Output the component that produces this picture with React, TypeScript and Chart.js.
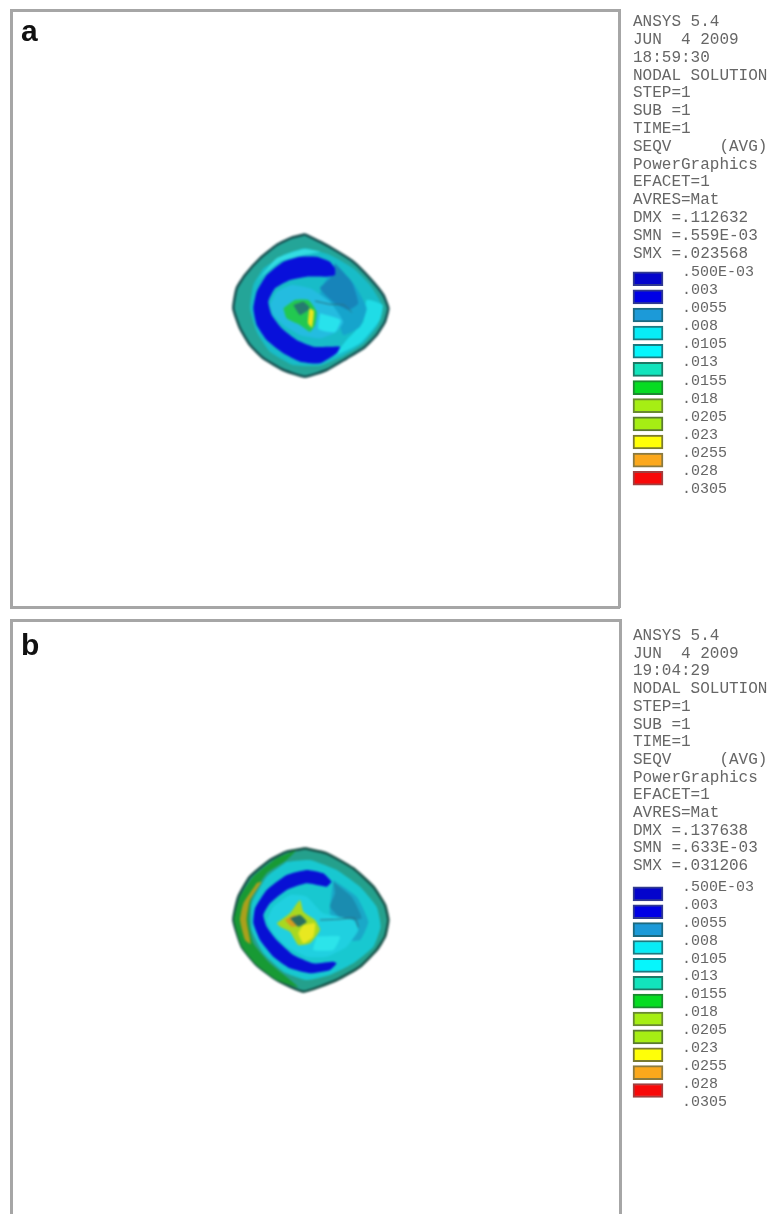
import React, { useEffect, useRef } from "react";
import { Chart, registerables } from "chart.js";

Chart.register(...registerables);

type Pt = [number, number];

/* ---------- legend data ---------- */
const levels = [".500E-03", ".003", ".0055", ".008", ".0105", ".013", ".0155", ".018", ".0205", ".023", ".0255", ".028", ".0305"];
const bandPosition = [0.38, 1.38, 2.38, 3.38, 4.38, 5.38, 6.38, 7.38, 8.38, 9.38, 10.38, 11.38];
const bandColors = ["#0404cc", "#0000e6", "#1c9ad8", "#08ecf6", "#06f6fc", "#12e4bc", "#06dc22", "#a6ee14", "#a6ee14", "#ffff08", "#fba81c", "#f80808"];
const bandEdges = ["#303a90", "#303a90", "#1c6a80", "#1c7a80", "#1c7a80", "#1c7a66", "#1c8a30", "#6a8a30", "#5a7a30", "#7a7a30", "#8a7a40", "#a04040"];

const headerA = ["ANSYS 5.4", "JUN  4 2009", "18:59:30", "NODAL SOLUTION", "STEP=1", "SUB =1", "TIME=1", "SEQV     (AVG)", "PowerGraphics", "EFACET=1", "AVRES=Mat", "DMX =.112632", "SMN =.559E-03", "SMX =.023568"];
const headerB = ["ANSYS 5.4", "JUN  4 2009", "19:04:29", "NODAL SOLUTION", "STEP=1", "SUB =1", "TIME=1", "SEQV     (AVG)", "PowerGraphics", "EFACET=1", "AVRES=Mat", "DMX =.137638", "SMN =.633E-03", "SMX =.031206"];

/* ---------- contour bands, panel a ---------- */
const aOutline: Pt[] = [[255,28],[300,50],[345,75],[400,110],[450,160],[490,210],[505,250],[495,290],[470,330],[430,370],[380,400],[320,435],[255,455],[190,435],[130,400],[90,360],[60,310],[40,250],[50,190],[75,150],[120,100],[170,60],[215,38]];
const aCyanRing: Pt[] = [[130,130],[190,90],[255,70],[330,90],[400,130],[450,180],[486,240],[474,300],[430,355],[370,392],[300,422],[220,420],[150,380],[110,320],[90,250],[100,180]];
const aTopArc: Pt[] = [[110,170],[170,100],[250,72],[300,80],[250,90],[180,110],[130,150]];
const aLowerRight: Pt[] = [[340,395],[420,355],[480,285],[488,240],[440,225],[430,290],[380,345]];
const aMid: Pt[] = [[340,120],[400,175],[440,250],[420,305],[370,330],[350,270],[300,210]];
const aUpperRight: Pt[] = [[345,115],[395,170],[415,235],[385,255],[340,232],[300,190],[330,160]];
const aBlueC: Pt[] = [[345,130],[330,110],[290,95],[240,95],[190,110],[140,150],[110,200],[100,250],[110,300],[140,345],[190,385],[240,410],[300,415],[350,385],[360,365],[330,365],[280,365],[230,345],[185,310],[155,270],[145,230],[165,190],[210,165],[260,155],[320,155],[345,150]];
const aInner: Pt[] = [[150,240],[170,200],[215,180],[270,190],[330,230],[370,290],[350,320],[300,340],[240,330],[190,300],[160,270]];
const aBright: Pt[] = [[300,265],[362,285],[345,322],[295,312]];
const aGreen: Pt[] = [[190,250],[225,225],[265,225],[290,260],[285,300],[270,320],[240,300],[200,280]];
const aCore: Pt[] = [[220,240],[250,230],[270,250],[240,270]];
const aStreak: Pt[] = [[268,250],[282,258],[276,308],[264,295]];
const aMesh: Pt[] = [[285,228],[330,238],[372,240],[395,262]];

/* ---------- contour bands, panel b ---------- */
const bOutline: Pt[] = [[255,25],[320,40],[400,85],[460,140],[495,195],[505,240],[495,290],[470,330],[420,380],[350,420],[250,455],[170,420],[110,375],[65,320],[40,240],[55,170],[90,110],[150,60],[200,35]];
const bGreen: Pt[] = [[230,30],[170,55],[100,110],[60,170],[42,240],[65,320],[110,375],[170,420],[235,442],[150,370],[100,310],[85,240],[95,170],[140,100],[200,60]];
const bOlive: Pt[] = [[110,130],[70,190],[60,240],[75,300],[92,312],[80,240],[90,180],[125,125]];
const bCyanRing: Pt[] = [[200,65],[270,60],[350,90],[420,140],[470,200],[482,260],[460,320],[400,370],[330,405],[260,420],[190,395],[130,340],[95,270],[95,190],[140,110]];
const bMid: Pt[] = [[340,120],[410,170],[445,245],[420,300],[370,300],[330,220]];
const bUpperRight: Pt[] = [[340,125],[395,170],[425,235],[370,240],[330,200],[345,160]];
const bBlueC: Pt[] = [[335,125],[310,100],[260,90],[200,105],[140,150],[105,205],[100,250],[120,300],[160,350],[210,385],[270,400],[330,390],[350,370],[340,365],[280,370],[220,345],[170,300],[140,260],[130,225],[150,190],[200,150],[260,130],[320,140]];
const bInner: Pt[] = [[140,240],[160,200],[210,165],[260,170],[310,220],[400,240],[415,270],[380,320],[320,350],[260,350],[200,320],[160,280]];
const bBright: Pt[] = [[290,290],[360,290],[340,330],[280,330]];
const bYellowGreen: Pt[] = [[170,250],[210,220],[240,180],[250,215],[285,240],[300,270],[270,310],[235,315],[210,275],[180,260]];
const bOrange: Pt[] = [[195,240],[225,225],[240,255],[215,260]];
const bYellow: Pt[] = [[250,255],[285,250],[280,290],[250,310],[235,280]];
const bCore: Pt[] = [[210,235],[240,225],[260,245],[235,260]];
const bMesh: Pt[] = [[300,240],[350,238],[405,235],[415,262]];

type Layer = { pts: Pt[]; fill?: string; line?: string; width?: number };

const layersA: Layer[] = [
  { pts: aOutline, fill: "#24a598", line: "#174f50", width: 2.5 },
  { pts: aCyanRing, fill: "#18bcc8" },
  { pts: aTopArc, fill: "#34dce2" },
  { pts: aLowerRight, fill: "#20dce6" },
  { pts: aMid, fill: "#16a4cc" },
  { pts: aUpperRight, fill: "#1784ba" },
  { pts: aBlueC, fill: "#0810da" },
  { pts: aInner, fill: "#24bce0" },
  { pts: aBright, fill: "#28e2ec" },
  { pts: aGreen, fill: "#22c850" },
  { pts: aCore, fill: "#257a70" },
  { pts: aStreak, fill: "#e6e61c" },
  { pts: aMesh, line: "#2a6f80", width: 1 },
];

const layersB: Layer[] = [
  { pts: bOutline, fill: "#24a08c", line: "#174f46", width: 2.5 },
  { pts: bGreen, fill: "#189a34" },
  { pts: bOlive, fill: "#aaa01c" },
  { pts: bCyanRing, fill: "#18c8d0" },
  { pts: bMid, fill: "#1aa8c8" },
  { pts: bUpperRight, fill: "#1a8cb0" },
  { pts: bBlueC, fill: "#0810d4" },
  { pts: bInner, fill: "#20d0e0" },
  { pts: bBright, fill: "#2ce4ea" },
  { pts: bYellowGreen, fill: "#a8d820" },
  { pts: bOrange, fill: "#d89a20" },
  { pts: bYellow, fill: "#e8e820" },
  { pts: bCore, fill: "#2a7060" },
  { pts: bMesh, line: "#2a6f80", width: 1 },
];

const FRAME = "#a6a6a6";

function frameAxis(position: string, show: boolean, extra: any = {}) {
  return {
    type: "linear",
    position,
    display: true,
    ticks: { display: false },
    grid: { display: false, drawTicks: false },
    border: { display: show, color: FRAME, width: 3 },
    ...extra,
  };
}

type PanelOpts = {
  letter: string; letterY: number; pad: any;
  xr: [number, number]; yr: [number, number]; bottomFrame: boolean;
};

/* frame + panel letter */
function makeFrame(canvas: HTMLCanvasElement, o: PanelOpts) {
  const letterPlugin = {
    id: "panelLetter",
    afterDraw(chart: any) {
      const ctx = chart.ctx;
      ctx.save();
      ctx.font = "bold 30px 'Liberation Sans'";
      ctx.fillStyle = "#111";
      ctx.textBaseline = "alphabetic";
      ctx.fillText(o.letter, 21, o.letterY);
      ctx.restore();
    },
  };
  return new Chart(canvas, {
    type: "scatter",
    data: { datasets: [] },
    options: {
      responsive: false,
      animation: false,
      layout: { padding: o.pad, autoPadding: false },
      plugins: { legend: { display: false }, tooltip: { enabled: false } },
      events: [],
      scales: {
        x: frameAxis("bottom", o.bottomFrame, { min: o.xr[0], max: o.xr[1] }),
        xTop: frameAxis("top", true),
        y: frameAxis("left", true, { min: o.yr[0], max: o.yr[1], reverse: true }),
        yRight: frameAxis("right", true),
      },
    } as any,
    plugins: [letterPlugin],
  } as any);
}

/* contour plot */
function makeModel(canvas: HTMLCanvasElement, layers: Layer[], o: PanelOpts) {
  return new Chart(canvas, {
    type: "scatter",
    data: {
      datasets: layers.map((l, i) => ({
        data: (l.fill ? [...l.pts, l.pts[0]] : l.pts).map(([x, y]) => ({ x, y })),
        showLine: true,
        fill: l.fill ? "shape" : false,
        backgroundColor: l.fill,
        borderColor: l.line ?? "transparent",
        borderWidth: l.line ? l.width : 0,
        pointRadius: 0,
        tension: 0.15,
        order: layers.length - i,
      })),
    },
    options: {
      responsive: false,
      animation: false,
      layout: { padding: o.pad, autoPadding: false },
      plugins: { legend: { display: false }, tooltip: { enabled: false } },
      events: [],
      scales: {
        x: { type: "linear", display: false, min: o.xr[0], max: o.xr[1] },
        y: { type: "linear", display: false, min: o.yr[0], max: o.yr[1], reverse: true },
      },
    } as any,
  } as any);
}

function makeLegend(canvas: HTMLCanvasElement, header: string[], padTop: number, yMin: number, yMax: number, lineH: string) {
  return new Chart(canvas, {
    type: "bar",
    data: {
      datasets: [{
        data: bandPosition.map((y) => ({ x: 1, y })),
        backgroundColor: bandColors,
        borderColor: bandEdges,
        borderWidth: 2,
        borderSkipped: false,
        barThickness: 14,
        clip: false,
      }],
    },
    options: {
      indexAxis: "y",
      responsive: false,
      animation: false,
      events: [],
      layout: { padding: { left: 11, right: 5, top: padTop, bottom: 0 }, autoPadding: false },
      plugins: {
        legend: { display: false },
        tooltip: { enabled: false },
        title: {
          display: true,
          text: header,
          align: "start",
          color: "#666",
          padding: 0,
          font: { family: "'Liberation Mono'", size: 16, weight: "normal", lineHeight: lineH },
        },
      },
      scales: {
        x: { type: "linear", min: 0, max: 1, display: false },
        y: {
          type: "linear",
          position: "right",
          reverse: true,
          offset: false,
          min: yMin,
          max: yMax,
          grid: { display: false, drawTicks: false },
          border: { display: false },
          afterFit: (axis: any) => { axis.width = 114; },
          afterBuildTicks: (axis: any) => { axis.ticks = levels.map((_, i) => ({ value: i })); },
          ticks: {
            autoSkip: false,
            padding: 19,
            color: "#666",
            font: { family: "'Liberation Mono'", size: 15 },
            callback: (v: any) => levels[v],
          },
        },
      },
    } as any,
  } as any);
}

const canvasStyle = (left: number, top: number, blur: number): React.CSSProperties => ({
  position: "absolute", left, top, display: "block", filter: `blur(${blur}px)`,
});

const panelA: PanelOpts = {
  letter: "a", letterY: 41,
  pad: { left: 11, top: 10, right: 148, bottom: 5 },
  xr: [-627, 1197], yr: [-645, 1146], bottomFrame: true,
};
const panelB: PanelOpts = {
  letter: "b", letterY: 42,
  pad: { left: 11, top: 7, right: 147, bottom: 0 },
  xr: [-627, 1200], yr: [-660, 1122], bottomFrame: false,
};

export default function App() {
  const fa = useRef<HTMLCanvasElement>(null);
  const fb = useRef<HTMLCanvasElement>(null);
  const ma = useRef<HTMLCanvasElement>(null);
  const mb = useRef<HTMLCanvasElement>(null);
  const la = useRef<HTMLCanvasElement>(null);
  const lb = useRef<HTMLCanvasElement>(null);

  useEffect(() => {
    const charts = [
      makeFrame(fa.current!, panelA),
      makeFrame(fb.current!, panelB),
      makeModel(ma.current!, layersA, panelA),
      makeModel(mb.current!, layersB, panelB),
      makeLegend(la.current!, headerA, 13, -0.531, 13.24, "17.8px"),
      makeLegend(lb.current!, headerB, 4, -0.69, 13.87, "17.7px"),
    ];
    return () => charts.forEach((c) => c.destroy());
  }, []);

  return (
    <div style={{ position: "absolute", left: 0, top: 0, width: 767, height: 1214, background: "#fff", overflow: "hidden" }}>
      <canvas ref={fa} width={767} height={612} style={canvasStyle(0, 0, 0.4)} />
      <canvas ref={fb} width={767} height={601} style={canvasStyle(0, 613, 0.4)} />
      <canvas ref={ma} width={767} height={612} style={canvasStyle(0, 0, 0.9)} />
      <canvas ref={mb} width={767} height={601} style={canvasStyle(0, 613, 0.9)} />
      <canvas ref={la} width={160} height={540} style={canvasStyle(622, 0, 0.65)} />
      <canvas ref={lb} width={160} height={540} style={canvasStyle(622, 623, 0.65)} />
    </div>
  );
}
